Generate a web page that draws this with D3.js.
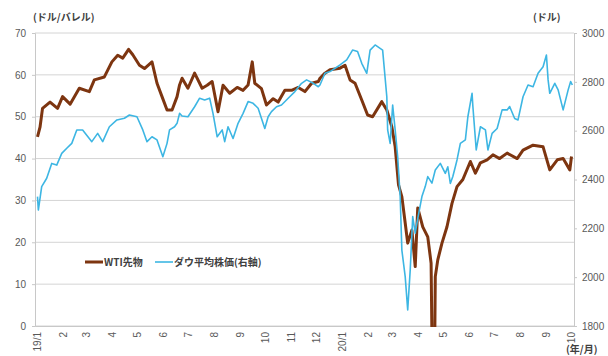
<!DOCTYPE html>
<html><head><meta charset="utf-8">
<script src="https://cdn.jsdelivr.net/npm/d3@7"></script>
<style>
html,body{margin:0;padding:0;background:#fff;}
svg{display:block;font-family:"Noto Sans CJK JP","Noto Sans",sans-serif;}
</style></head>
<body><svg id="chart" width="608" height="356"></svg>
<script>
// ---- data ----
const wtiDates = ["2019-01-02","2019-01-05","2019-01-08","2019-01-17","2019-01-26","2019-02-01","2019-02-10","2019-02-21","2019-03-05","2019-03-11","2019-03-23","2019-04-01","2019-04-08","2019-04-14","2019-04-21","2019-04-26","2019-05-04","2019-05-10","2019-05-19","2019-05-25","2019-05-31","2019-06-06","2019-06-12","2019-06-18","2019-06-21","2019-06-24","2019-07-01","2019-07-09","2019-07-18","2019-07-24","2019-07-30","2019-08-06","2019-08-12","2019-08-20","2019-08-29","2019-09-05","2019-09-11","2019-09-16","2019-09-19","2019-09-27","2019-10-03","2019-10-11","2019-10-17","2019-10-25","2019-11-02","2019-11-10","2019-11-18","2019-11-26","2019-12-04","2019-12-06","2019-12-12","2019-12-18","2019-12-30","2020-01-05","2020-01-11","2020-01-17","2020-01-25","2020-02-01","2020-02-07","2020-02-18","2020-02-24","2020-03-01","2020-03-05","2020-03-09","2020-03-13","2020-03-17","2020-03-20","2020-03-25","2020-03-29","2020-04-01","2020-04-07","2020-04-13","2020-04-17","2020-04-20","2020-04-22","2020-04-25","2020-04-30","2020-05-06","2020-05-12","2020-05-18","2020-05-25","2020-06-03","2020-06-09","2020-06-15","2020-06-23","2020-06-30","2020-07-08","2020-07-17","2020-07-29","2020-08-05","2020-08-17","2020-08-29","2020-09-06","2020-09-15","2020-09-22","2020-09-30","2020-10-02"];
const wtiValues = [45.2,47.5,52.0,53.5,52.0,54.8,53.0,56.8,56.0,58.8,59.5,63.1,64.7,64.0,66.1,64.8,62.3,61.5,63.1,58.0,54.8,51.6,51.6,54.8,57.6,59.2,56.8,60.4,56.8,57.5,58.4,51.2,57.5,55.6,57.0,56.3,57.6,63.1,58.0,56.7,52.8,54.3,53.5,56.3,56.3,57.0,56.0,58.0,58.4,59.2,60.4,61.2,61.6,62.3,58.8,58.0,54.0,50.4,50.0,53.6,51.6,47.6,42.8,33.7,30.9,24.6,19.8,22.9,14.2,28.2,23.7,21.3,15.0,-37.6,11.8,15.8,19.8,23.7,29.3,33.3,35.0,39.3,36.5,39.0,39.7,40.9,40.0,41.3,40.0,42.0,43.2,42.8,37.3,39.7,40.0,37.3,40.5];

const dowDates = ["2019-01-02","2019-01-03","2019-01-07","2019-01-13","2019-01-19","2019-01-25","2019-01-31","2019-02-06","2019-02-12","2019-02-18","2019-02-25","2019-03-08","2019-03-15","2019-03-21","2019-03-29","2019-04-07","2019-04-16","2019-04-22","2019-05-01","2019-05-08","2019-05-13","2019-05-19","2019-05-25","2019-06-01","2019-06-06","2019-06-09","2019-06-15","2019-06-18","2019-06-21","2019-06-24","2019-07-01","2019-07-09","2019-07-15","2019-07-21","2019-07-27","2019-07-31","2019-08-05","2019-08-11","2019-08-14","2019-08-18","2019-08-24","2019-08-30","2019-09-05","2019-09-11","2019-09-17","2019-09-23","2019-10-01","2019-10-05","2019-10-09","2019-10-15","2019-10-21","2019-10-29","2019-11-06","2019-11-14","2019-11-20","2019-11-28","2019-12-04","2019-12-06","2019-12-12","2019-12-18","2019-12-30","2020-01-07","2020-01-14","2020-01-20","2020-01-25","2020-01-31","2020-02-04","2020-02-10","2020-02-16","2020-02-19","2020-02-24","2020-02-25","2020-02-28","2020-03-02","2020-03-05","2020-03-08","2020-03-11","2020-03-13","2020-03-17","2020-03-20","2020-03-23","2020-03-26","2020-03-29","2020-04-01","2020-04-06","2020-04-10","2020-04-13","2020-04-18","2020-04-22","2020-04-28","2020-05-04","2020-05-07","2020-05-10","2020-05-13","2020-05-16","2020-05-18","2020-05-22","2020-05-28","2020-05-31","2020-06-05","2020-06-06","2020-06-10","2020-06-15","2020-06-21","2020-06-24","2020-06-29","2020-07-05","2020-07-11","2020-07-17","2020-07-20","2020-07-26","2020-07-30","2020-08-05","2020-08-11","2020-08-17","2020-08-23","2020-08-29","2020-09-02","2020-09-04","2020-09-06","2020-09-12","2020-09-16","2020-09-22","2020-09-28","2020-10-01","2020-10-03"];
const dowValues = [2330,2275,2371,2405,2466,2459,2507,2528,2548,2603,2603,2555,2589,2555,2616,2644,2651,2664,2657,2603,2555,2575,2562,2493,2548,2603,2616,2630,2671,2660,2657,2698,2733,2726,2733,2671,2575,2603,2555,2616,2568,2630,2671,2719,2712,2692,2609,2657,2678,2698,2705,2733,2760,2794,2808,2794,2780,2787,2835,2842,2869,2890,2930,2924,2876,2835,2930,2951,2937,2930,2739,2603,2548,2705,2603,2493,2330,2111,2002,1866,2029,2248,2180,2240,2330,2371,2412,2385,2439,2466,2425,2452,2384,2412,2452,2480,2548,2562,2657,2753,2699,2521,2616,2603,2521,2589,2609,2685,2685,2699,2650,2644,2739,2787,2780,2835,2862,2910,2808,2753,2794,2767,2685,2767,2801,2787];

const monthTicks = ["2019-01-01","2019-02-01","2019-03-01","2019-04-01","2019-05-01","2019-06-01","2019-07-01","2019-08-01","2019-09-01","2019-10-01","2019-11-01","2019-12-01","2020-01-01","2020-02-01","2020-03-01","2020-04-01","2020-05-01","2020-06-01","2020-07-01","2020-08-01","2020-09-01","2020-10-01"];
const monthLabels = ["19/1","2","3","4","5","6","7","8","9","10","11","12","20/1","2","3","4","5","6","7","8","9","10"];
const leftTicks = [0,10,20,30,40,50,60,70];
const rightTicks = [1800,2000,2200,2400,2600,2800,3000];
const seriesNames = ["WTI先物","ダウ平均株価(右軸)"];
const seriesColors = ["#7d3510","#3db6e3"];

// ---- chart ----
const parse = d3.timeParse("%Y-%m-%d");
const svg = d3.select("#chart");
const L = 35, R = 574, T = 33, B = 326;

const x = d3.scaleTime().domain([new Date(2018,11,30), new Date(2020,9,5)]).range([L, R]);
const yL = d3.scaleLinear().domain([0,70]).range([B, T]);
const yR = d3.scaleLinear().domain([1800,3000]).range([B, T]);

// grid
svg.append("g").selectAll("line").data(leftTicks).join("line")
  .attr("x1", L).attr("x2", R)
  .attr("y1", d => yL(d)).attr("y2", d => yL(d))
  .attr("stroke", "#d4d4d4").attr("stroke-width", 1);

// left axis
const gL = svg.append("g").attr("transform", `translate(${L},0)`)
  .call(d3.axisLeft(yL).tickValues(leftTicks).tickSize(3).tickPadding(6));
gL.select(".domain").attr("stroke", "#c8c8c8");
gL.selectAll(".tick line").attr("stroke", "#c8c8c8");
gL.selectAll("text").attr("fill", "#595959").style("font-size", "10px").style("font-family", "inherit");

// right axis
const gR = svg.append("g").attr("transform", `translate(${R},0)`)
  .call(d3.axisRight(yR).tickValues(rightTicks).tickSize(3).tickPadding(5).tickFormat(d3.format("d")));
gR.select(".domain").attr("stroke", "#c8c8c8");
gR.selectAll(".tick line").attr("stroke", "#c8c8c8");
gR.selectAll("text").attr("fill", "#595959").style("font-size", "10px").style("font-family", "inherit");

// bottom axis
const gB = svg.append("g").attr("transform", `translate(0,${B})`)
  .call(d3.axisBottom(x).tickValues(monthTicks.map(parse)).tickSize(0)
    .tickFormat((d,i) => monthLabels[i]));
gB.select(".domain").attr("stroke", "#c8c8c8");
gB.selectAll("text")
  .attr("fill", "#595959").style("font-size", "10px").style("font-family", "inherit")
  .attr("transform", "rotate(-90)")
  .attr("text-anchor", "end")
  .attr("x", -6).attr("y", 0).attr("dy", "0.35em");

// clip
svg.append("clipPath").attr("id", "clip").append("rect")
  .attr("x", L).attr("y", T - 5).attr("width", R - L).attr("height", B - T + 6);

const wtiData = wtiDates.map((d,i) => ({date: parse(d), v: wtiValues[i]}));
const dowData = dowDates.map((d,i) => ({date: parse(d), v: dowValues[i]}));

const plot = svg.append("g").attr("clip-path", "url(#clip)");
plot.append("path").datum(wtiData)
  .attr("fill", "none").attr("stroke", seriesColors[0]).attr("stroke-width", 3)
  .attr("stroke-linejoin", "round")
  .attr("d", d3.line().x(d => x(d.date)).y(d => yL(d.v)));
plot.append("path").datum(dowData)
  .attr("fill", "none").attr("stroke", seriesColors[1]).attr("stroke-width", 1.6)
  .attr("stroke-linejoin", "round")
  .attr("d", d3.line().x(d => x(d.date)).y(d => yR(d.v)));

// unit labels
svg.append("text").attr("x", 33).attr("y", 21).text("(ドル/バレル)")
  .attr("fill", "#404040").style("font-size", "10px").style("font-weight", "bold");
svg.append("text").attr("x", 533).attr("y", 21).text("(ドル)")
  .attr("fill", "#404040").style("font-size", "10px").style("font-weight", "bold");
svg.append("text").attr("x", 566).attr("y", 353).text("(年/月)")
  .attr("fill", "#404040").style("font-size", "10px").style("font-weight", "bold");

// legend
const leg = svg.append("g");
const legX = [85, 155];
seriesNames.forEach((n, i) => {
  leg.append("line").attr("x1", legX[i]).attr("x2", legX[i] + 18)
    .attr("y1", 262).attr("y2", 262)
    .attr("stroke", seriesColors[i]).attr("stroke-width", i === 0 ? 3 : 1.6);
  leg.append("text").attr("x", legX[i] + 19).attr("y", 266).text(n)
    .attr("fill", "#404040").style("font-size", "10px").style("font-weight", "bold");
});
</script></body></html>
